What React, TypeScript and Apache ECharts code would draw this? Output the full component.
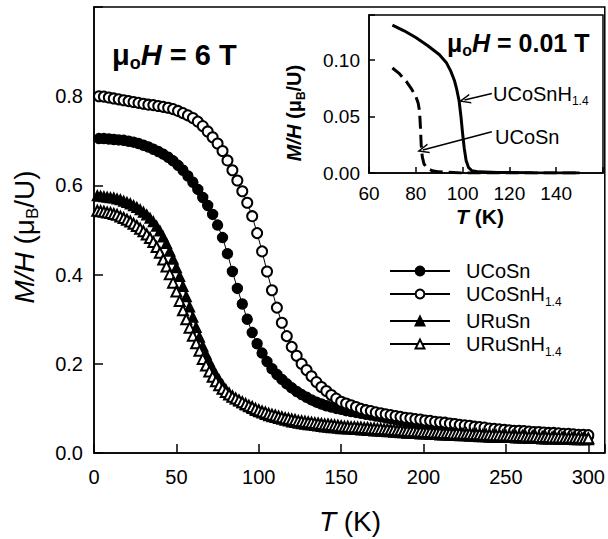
import React, { useEffect, useRef } from "react";
import * as echarts from "echarts";

const FONT = "'Liberation Sans', Arial, Helvetica, sans-serif";

// Temperatures (K) of the circle-marked series
const T_CIRCLE = [3, 6, 9, 12, 15, 18, 21, 24, 27, 30, 33, 36, 39, 42, 45, 48, 51, 54, 57, 60, 63, 66, 69, 72, 75, 78, 81, 84, 87, 90, 93, 96, 99, 102, 105, 108, 111, 114, 117, 120, 123, 126, 129, 132, 135, 138, 141, 144, 147, 150, 153, 156, 159, 162, 165, 168, 171, 174, 177, 180, 183, 186, 189, 192, 195, 198, 201, 204, 207, 210, 213, 216, 219, 222, 225, 228, 231, 234, 237, 240, 243, 246, 249, 252, 255, 258, 261, 264, 267, 270, 273, 276, 279, 282, 285, 288, 291, 294, 297, 300];

// UCoSn (filled circles), M/H in muB/U
const UCOSN = [0.705, 0.705, 0.704, 0.703, 0.702, 0.701, 0.699, 0.697, 0.694, 0.690,
  0.686, 0.681, 0.676, 0.670, 0.663, 0.655, 0.645, 0.634, 0.621, 0.607,
  0.591, 0.573, 0.555, 0.535, 0.511, 0.483, 0.447, 0.407, 0.369, 0.334,
  0.300, 0.270, 0.245, 0.224, 0.205, 0.189, 0.176, 0.165, 0.155, 0.146,
  0.138, 0.131, 0.125, 0.119, 0.114, 0.110, 0.106, 0.103, 0.100, 0.098,
  0.095, 0.093, 0.091, 0.089, 0.087, 0.085, 0.083, 0.081, 0.079, 0.077,
  0.075, 0.073, 0.071, 0.069, 0.067, 0.065, 0.063, 0.062, 0.061, 0.060,
  0.059, 0.058, 0.057, 0.056, 0.055, 0.054, 0.053, 0.052, 0.051, 0.050,
  0.049, 0.048, 0.047, 0.047, 0.046, 0.045, 0.045, 0.044, 0.043, 0.043,
  0.042, 0.041, 0.041, 0.040, 0.039, 0.039, 0.038, 0.038, 0.037, 0.037];

// UCoSnH1.4 (open circles)
const UCOSNH = [0.800, 0.799, 0.797, 0.795, 0.793, 0.791, 0.789, 0.787, 0.785, 0.783,
  0.781, 0.780, 0.778, 0.776, 0.774, 0.771, 0.767, 0.762, 0.757, 0.751,
  0.743, 0.733, 0.721, 0.708, 0.694, 0.677, 0.656, 0.634, 0.611, 0.587,
  0.561, 0.531, 0.493, 0.452, 0.407, 0.365, 0.326, 0.292, 0.262, 0.238,
  0.218, 0.200, 0.186, 0.172, 0.159, 0.148, 0.139, 0.130, 0.122, 0.115,
  0.111, 0.107, 0.103, 0.099, 0.096, 0.094, 0.091, 0.089, 0.087, 0.085,
  0.083, 0.081, 0.079, 0.078, 0.076, 0.075, 0.073, 0.072, 0.070, 0.069,
  0.068, 0.066, 0.065, 0.063, 0.062, 0.061, 0.059, 0.058, 0.057, 0.055,
  0.054, 0.053, 0.052, 0.051, 0.050, 0.050, 0.049, 0.048, 0.047, 0.047,
  0.046, 0.045, 0.045, 0.044, 0.043, 0.043, 0.042, 0.041, 0.041, 0.040];

// Temperatures (K) of the triangle-marked series
const T_TRI = [2, 4, 6, 8, 10, 12, 14, 16, 18, 20, 22, 24, 26, 28, 30, 32, 34, 36, 38, 40,
  42, 44, 46, 48, 50, 52, 54, 56, 58, 60, 62, 64, 66, 68, 70, 72, 74, 76, 78, 80,
  82, 84, 86, 88, 90, 92, 94, 96, 98, 100, 102, 104, 106, 108, 110, 112, 114, 116, 118, 120,
  122, 124, 126, 128, 130, 132, 134, 136, 138, 140, 142, 144, 146, 148, 150, 152, 154, 156, 158, 160,
  162, 164, 166, 168, 170, 172, 174, 176, 178, 180, 182, 184, 186, 188, 190, 192, 194, 196, 198, 200,
  202, 204, 206, 208, 210, 212, 214, 216, 218, 220, 222, 224, 226, 228, 230, 232, 234, 236, 238, 240,
  242, 244, 246, 248, 250, 252, 254, 256, 258, 260, 262, 264, 266, 268, 270, 272, 274, 276, 278, 280,
  282, 284, 286, 288, 290, 292, 294, 296, 298, 300];

// URuSn (filled triangles)
const URUSN = [0.577, 0.576, 0.575, 0.574, 0.573, 0.572, 0.570, 0.568, 0.565, 0.562,
  0.559, 0.555, 0.551, 0.546, 0.540, 0.534, 0.527, 0.519, 0.509, 0.498,
  0.485, 0.470, 0.453, 0.435, 0.416, 0.396, 0.374, 0.351, 0.328, 0.305,
  0.282, 0.260, 0.240, 0.222, 0.205, 0.190, 0.176, 0.164, 0.153, 0.143,
  0.135, 0.128, 0.122, 0.117, 0.113, 0.108, 0.104, 0.100, 0.096, 0.093,
  0.090, 0.087, 0.084, 0.082, 0.080, 0.078, 0.076, 0.074, 0.072, 0.070,
  0.069, 0.067, 0.066, 0.065, 0.064, 0.063, 0.062, 0.061, 0.060, 0.059,
  0.058, 0.057, 0.057, 0.056, 0.055, 0.055, 0.054, 0.054, 0.053, 0.053,
  0.052, 0.052, 0.051, 0.051, 0.050, 0.050, 0.049, 0.049, 0.048, 0.048,
  0.047, 0.047, 0.046, 0.046, 0.045, 0.045, 0.044, 0.044, 0.043, 0.043,
  0.043, 0.042, 0.042, 0.042, 0.041, 0.041, 0.041, 0.040, 0.040, 0.040,
  0.039, 0.039, 0.039, 0.038, 0.038, 0.038, 0.037, 0.037, 0.037, 0.036,
  0.036, 0.036, 0.036, 0.035, 0.035, 0.035, 0.035, 0.034, 0.034, 0.034,
  0.034, 0.033, 0.033, 0.033, 0.033, 0.032, 0.032, 0.032, 0.032, 0.032,
  0.031, 0.031, 0.031, 0.031, 0.031, 0.030, 0.030, 0.030, 0.030, 0.030];

// URuSnH1.4 (open triangles)
const URUSNH = [0.543, 0.542, 0.541, 0.539, 0.538, 0.536, 0.534, 0.530, 0.527, 0.523,
  0.519, 0.514, 0.509, 0.503, 0.497, 0.490, 0.482, 0.473, 0.462, 0.449,
  0.434, 0.418, 0.401, 0.382, 0.362, 0.341, 0.320, 0.300, 0.281, 0.263,
  0.246, 0.229, 0.211, 0.196, 0.183, 0.171, 0.161, 0.152, 0.144, 0.137,
  0.131, 0.126, 0.122, 0.118, 0.114, 0.110, 0.106, 0.103, 0.099, 0.096,
  0.093, 0.091, 0.088, 0.086, 0.084, 0.082, 0.080, 0.078, 0.077, 0.075,
  0.074, 0.072, 0.071, 0.070, 0.069, 0.068, 0.067, 0.066, 0.065, 0.064,
  0.064, 0.063, 0.062, 0.061, 0.060, 0.059, 0.059, 0.058, 0.058, 0.057,
  0.057, 0.056, 0.056, 0.055, 0.055, 0.054, 0.054, 0.053, 0.053, 0.052,
  0.052, 0.051, 0.051, 0.050, 0.050, 0.049, 0.049, 0.048, 0.048, 0.047,
  0.047, 0.047, 0.046, 0.046, 0.046, 0.045, 0.045, 0.045, 0.044, 0.044,
  0.044, 0.043, 0.043, 0.043, 0.042, 0.042, 0.042, 0.041, 0.041, 0.041,
  0.040, 0.040, 0.040, 0.039, 0.039, 0.039, 0.038, 0.038, 0.038, 0.038,
  0.037, 0.037, 0.037, 0.037, 0.036, 0.036, 0.036, 0.036, 0.035, 0.035,
  0.035, 0.035, 0.034, 0.034, 0.034, 0.034, 0.034, 0.033, 0.033, 0.033];

// Inset, mu0H = 0.01 T
const INSET_T_UCOSNH = [70, 75, 80, 85, 90, 93, 95, 96.5, 97.5, 98.5, 99.3, 100, 100.7, 101.5, 102.5, 104, 107, 115, 130, 150];
const INSET_UCOSNH = [0.131, 0.126, 0.120, 0.113, 0.105, 0.098, 0.090, 0.082, 0.074, 0.064, 0.050, 0.035, 0.022, 0.011, 0.005, 0.002, 0.001, 0.0005, 0.0002, 0];
const INSET_T_UCOSN = [70, 73, 76, 78, 80, 81, 81.6, 82, 82.3, 82.8, 83.5, 85, 87, 90, 100, 150];
const INSET_UCOSN = [0.093, 0.088, 0.081, 0.075, 0.068, 0.062, 0.055, 0.040, 0.025, 0.014, 0.008, 0.004, 0.002, 0.001, 0, 0];

// Arrow annotations in the inset: [T start, M/H start, T end, M/H end]
const ARROW_UCOSNH = [112.5, 0.0705, 100.8, 0.0646];
const ARROW_UCOSN = [112.5, 0.0365, 83.0, 0.0204];

const MAIN_X_TICKS = [0, 50, 100, 150, 200, 250, 300];
const MAIN_Y_TICKS = [0, 0.2, 0.4, 0.6, 0.8];
const INSET_X_TICKS = [60, 80, 100, 120, 140];
const INSET_Y_TICKS = [0, 0.05, 0.1];

const SERIES_NAMES = ["UCoSn", "UCoSnH1.4", "URuSn", "URuSnH1.4"];

const pairs = (xs: number[], ys: number[]) => xs.map((x, i) => [x, ys[i]]);
const near = (list: number[], v: number) => list.some((t) => Math.abs(t - v) < 1e-6);

const ARROW_PATH = "path://M5,0 L10,10 L8.5,10 L5,3 L1.5,10 L0,10 Z";

export default function App() {
  const ref = useRef<HTMLDivElement>(null);

  useEffect(() => {
    if (!ref.current) return;
    const chart = echarts.init(ref.current, undefined, { renderer: "svg" });

    const axisCommon = {
      axisLine: { lineStyle: { color: "#000", width: 1.5 } },
      splitLine: { show: false },
    };

    const mainSeries = (name: string, xs: number[], ys: number[], symbol: string, size: number) => ({
      type: "line",
      name,
      xAxisIndex: 0,
      yAxisIndex: 0,
      data: pairs(xs, ys),
      symbol,
      symbolSize: size,
      showAllSymbol: true,
      lineStyle: { color: "#000", width: 1 },
      itemStyle: { color: "#000", borderColor: "#000", borderWidth: 1.4 },
      emphasis: { disabled: true },
      silent: true,
    });

    const rich = (size: number, weight: string) => ({
      n: { fontSize: size, fontFamily: FONT, fontWeight: weight, color: "#000" },
      i: { fontSize: size, fontFamily: FONT, fontWeight: weight, fontStyle: "italic", color: "#000" },
      s: {
        fontSize: Math.round(size * 0.62),
        fontFamily: FONT,
        fontWeight: weight,
        color: "#000",
        verticalAlign: "bottom",
        lineHeight: Math.round(size * 0.7),
      },
    });

    const withLines = (r: any, lh: number) => {
      const out: any = {};
      Object.keys(r).forEach((k) => {
        out[k] = { ...r[k] };
        if (k !== "s") out[k].lineHeight = lh;
      });
      return out;
    };

    const option: any = {
      animation: false,
      backgroundColor: "#fff",
      textStyle: { fontFamily: FONT, color: "#000" },
      grid: [
        { left: 94, top: 7, right: -2, bottom: 86, show: true, borderColor: "#000", borderWidth: 1.5, backgroundColor: "transparent" },
        { left: 369, top: 15, right: 5, bottom: 366, show: true, borderColor: "#000", borderWidth: 1.5, backgroundColor: "#fff" },
      ],
      xAxis: [
        {
          type: "value", gridIndex: 0, min: 0, max: 310, interval: 50, ...axisCommon,
          axisTick: { inside: true, length: 9, lineStyle: { color: "#000", width: 1.5 } },
          axisLabel: { fontSize: 20, color: "#000", fontFamily: FONT, margin: 14,
            formatter: (v: number) => (near(MAIN_X_TICKS, v) ? String(v) : "") },
        },
        {
          type: "value", gridIndex: 1, min: 60, max: 160, interval: 20, ...axisCommon,
          axisTick: { inside: true, length: 6, lineStyle: { color: "#000", width: 1.5 } },
          axisLabel: { fontSize: 19, color: "#000", fontFamily: FONT, margin: 11,
            formatter: (v: number) => (near(INSET_X_TICKS, v) ? String(v) : "") },
        },
      ],
      yAxis: [
        {
          type: "value", gridIndex: 0, min: 0, max: 1.0, interval: 0.2, ...axisCommon,
          axisTick: { inside: true, length: 9, lineStyle: { color: "#000", width: 1.5 } },
          axisLabel: { fontSize: 20, color: "#000", fontFamily: FONT, margin: 11,
            formatter: (v: number) => (near(MAIN_Y_TICKS, v) ? v.toFixed(1) : "") },
        },
        {
          type: "value", gridIndex: 1, min: 0, max: 0.14, interval: 0.05, ...axisCommon,
          axisTick: { inside: true, length: 6, lineStyle: { color: "#000", width: 1.5 } },
          axisLabel: { fontSize: 19, color: "#000", fontFamily: FONT, margin: 9,
            formatter: (v: number) => (near(INSET_Y_TICKS, v) ? v.toFixed(2) : "") },
        },
      ],
      legend: {
        data: SERIES_NAMES,
        orient: "vertical",
        left: 389,
        top: 261,
        padding: 0,
        itemWidth: 60,
        itemHeight: 11,
        itemGap: 3,
        selectedMode: false,
        textStyle: { fontSize: 20, color: "#000", fontFamily: FONT, rich: { g: { width: 11, height: 28 }, ...withLines(rich(20, "normal"), 28) } },
        formatter: (name: string) =>
          "{g|}" + (name.endsWith("H1.4") ? `{n|${name.slice(0, -3)}}{s|1.4}` : `{n|${name}}`),
      },
      series: [
        mainSeries(SERIES_NAMES[0], T_CIRCLE, UCOSN, "circle", 10),
        mainSeries(SERIES_NAMES[1], T_CIRCLE, UCOSNH, "emptyCircle", 10),
        mainSeries(SERIES_NAMES[2], T_TRI, URUSN, "triangle", 10),
        mainSeries(SERIES_NAMES[3], T_TRI, URUSNH, "emptyTriangle", 10),
        {
          type: "line", name: "inset-UCoSn", xAxisIndex: 1, yAxisIndex: 1,
          data: pairs(INSET_T_UCOSN, INSET_UCOSN), symbol: "none", silent: true,
          lineStyle: { color: "#000", width: 3, type: [13, 6] },
        },
        {
          type: "line", name: "inset-UCoSnH", xAxisIndex: 1, yAxisIndex: 1,
          data: pairs(INSET_T_UCOSNH, INSET_UCOSNH), symbol: "none", silent: true,
          lineStyle: { color: "#000", width: 3 },
          markLine: {
            silent: true,
            symbol: ["none", ARROW_PATH],
            symbolSize: [10, 12],
            lineStyle: { color: "#000", width: 1.5, type: "solid" },
            label: { show: false },
            emphasis: { disabled: true },
            data: [
              [{ coord: [ARROW_UCOSNH[0], ARROW_UCOSNH[1]] }, { coord: [ARROW_UCOSNH[2], ARROW_UCOSNH[3]] }],
              [{ coord: [ARROW_UCOSN[0], ARROW_UCOSN[1]] }, { coord: [ARROW_UCOSN[2], ARROW_UCOSN[3]] }],
            ],
          },
        },
      ],
      graphic: [
        {
          type: "text", x: 24, y: 237, rotation: Math.PI / 2,
          style: { text: "{i|M/H}{n| (μ}{s|B}{n|/U)}", rich: withLines(rich(28, "normal"), 34), align: "center", verticalAlign: "middle" },
        },
        {
          type: "text", x: 350, y: 521,
          style: { text: "{i|T}{n| (K)}", rich: withLines(rich(28, "normal"), 34), align: "center", verticalAlign: "middle" },
        },
        {
          type: "text", x: 112, y: 55,
          style: { text: "{n|μ}{s|o}{i|H}{n| = 6 T}", rich: withLines(rich(29, "bold"), 34), align: "left", verticalAlign: "middle" },
        },
        {
          type: "text", x: 447, y: 43,
          style: { text: "{n|μ}{s|o}{i|H}{n| = 0.01 T}", rich: withLines(rich(25, "bold"), 30), align: "left", verticalAlign: "middle" },
        },
        {
          type: "text", x: 294, y: 113, rotation: Math.PI / 2,
          style: { text: "{i|M/H}{n| (μ}{s|B}{n|/U)}", rich: withLines(rich(20, "bold"), 26), align: "center", verticalAlign: "middle" },
        },
        {
          type: "text", x: 480, y: 216,
          style: { text: "{i|T}{n| (K)}", rich: withLines(rich(21, "bold"), 22), align: "center", verticalAlign: "middle" },
        },
        {
          type: "text", x: 493, y: 94,
          style: { text: "{n|UCoSnH}{s|1.4}", rich: withLines(rich(20, "normal"), 26), align: "left", verticalAlign: "middle" },
        },
        {
          type: "text", x: 495, y: 137,
          style: { text: "{n|UCoSn}", rich: withLines(rich(20, "normal"), 26), align: "left", verticalAlign: "middle" },
        },
      ],
    };

    chart.setOption(option);
    return () => chart.dispose();
  }, []);

  return <div ref={ref} style={{ position: "fixed", left: 0, top: 0, width: 608, height: 539 }} />;
}
